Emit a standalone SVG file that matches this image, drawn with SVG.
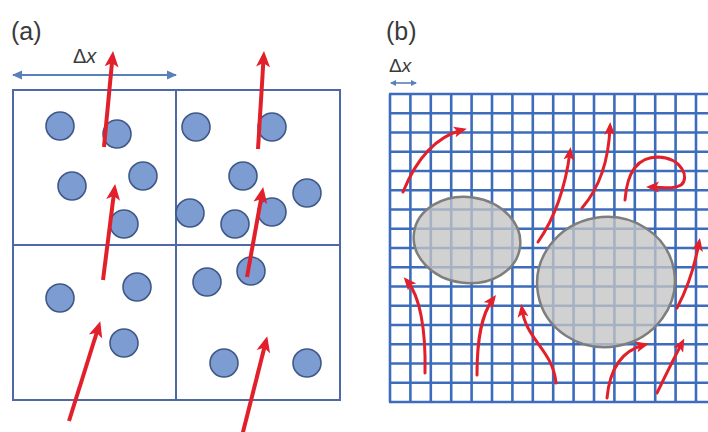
<svg xmlns="http://www.w3.org/2000/svg" width="708" height="432" viewBox="0 0 708 432">
<style>
.lbl{font-family:"Liberation Sans",Arial,sans-serif;fill:#3a3a3a}
.cell{fill:none;stroke:#4d6aa6;stroke-width:2}
.p{fill:#7d9dd2;stroke:#3f5887;stroke-width:1.6}
.ra{fill:none;stroke:#e2202b;stroke-width:4;marker-end:url(#hA)}
.rb{fill:none;stroke:#e2202b;stroke-width:3;stroke-linecap:round;marker-end:url(#hB)}
.g line{stroke:#3d6cbc;stroke-width:2.6}
.blob{fill:#c4c4c4;fill-opacity:0.78;stroke:#7e7e7e;stroke-width:2.5}
.dx{stroke:#5a7fb9;stroke-width:2;marker-start:url(#bS);marker-end:url(#bE)}
</style>
<defs>
<marker id="hA" markerUnits="userSpaceOnUse" markerWidth="16" markerHeight="16" viewBox="0 0 16 16" refX="11" refY="8" orient="auto">
<path d="M0,1 L16,8 L0,15 L4,8 Z" fill="#e2202b"/>
</marker>
<marker id="hB" markerUnits="userSpaceOnUse" markerWidth="13" markerHeight="12" viewBox="0 0 13 12" refX="8" refY="6" orient="auto">
<path d="M0,0.5 L13,6 L0,11.5 L3,6 Z" fill="#e2202b"/>
</marker>
<marker id="bE" markerUnits="userSpaceOnUse" markerWidth="10" markerHeight="10" viewBox="0 0 10 10" refX="9" refY="5" orient="auto">
<path d="M0,0.5 L10,5 L0,9.5 Z" fill="#5a7fb9"/>
</marker>
<marker id="bS" markerUnits="userSpaceOnUse" markerWidth="10" markerHeight="10" viewBox="0 0 10 10" refX="1" refY="5" orient="auto">
<path d="M10,0.5 L0,5 L10,9.5 Z" fill="#5a7fb9"/>
</marker>
<marker id="sE" markerUnits="userSpaceOnUse" markerWidth="6" markerHeight="6" viewBox="0 0 6 6" refX="5" refY="3" orient="auto">
<path d="M0,0 L6,3 L0,6 Z" fill="#5a7fb9"/>
</marker>
<marker id="sS" markerUnits="userSpaceOnUse" markerWidth="6" markerHeight="6" viewBox="0 0 6 6" refX="1" refY="3" orient="auto">
<path d="M6,0 L0,3 L6,6 Z" fill="#5a7fb9"/>
</marker>
</defs>
<rect width="708" height="432" fill="#ffffff"/>

<!-- Panel (a) -->
<g id="panel-a-label"><text class="lbl" x="11" y="40" font-size="25">(a)</text></g>
<g id="panel-a-dx">
<line class="dx" x1="13" y1="75" x2="176" y2="75"/>
<text class="lbl" x="73" y="63" font-size="20">Δ<tspan font-style="italic">x</tspan></text>
</g>
<g id="panel-a-cells">
<rect class="cell" x="13" y="90" width="327" height="310"/>
<line class="cell" x1="176" y1="90" x2="176" y2="400"/>
<line class="cell" x1="13" y1="245" x2="340" y2="245"/>
</g>
<g id="particles">
<circle class="p" cx="60" cy="126" r="14"/>
<circle class="p" cx="117" cy="134" r="14"/>
<circle class="p" cx="143" cy="176" r="14"/>
<circle class="p" cx="72" cy="186" r="14"/>
<circle class="p" cx="124" cy="224" r="14"/>
<circle class="p" cx="196" cy="127" r="14"/>
<circle class="p" cx="272" cy="127" r="14"/>
<circle class="p" cx="243" cy="176" r="14"/>
<circle class="p" cx="307" cy="193" r="14"/>
<circle class="p" cx="190" cy="213" r="14"/>
<circle class="p" cx="235" cy="224" r="14"/>
<circle class="p" cx="272" cy="212" r="14"/>
<circle class="p" cx="60" cy="298" r="14"/>
<circle class="p" cx="137" cy="287" r="14"/>
<circle class="p" cx="124" cy="343" r="14"/>
<circle class="p" cx="207" cy="282" r="14"/>
<circle class="p" cx="251" cy="271" r="14"/>
<circle class="p" cx="224" cy="363" r="14"/>
<circle class="p" cx="307" cy="363" r="14"/>
</g>
<g id="connectors-a">
<line class="ra" x1="104" y1="147" x2="112.6" y2="56"/>
<line class="ra" x1="258" y1="149" x2="263.7" y2="56"/>
<line class="ra" x1="103" y1="280" x2="114.5" y2="189"/>
<line class="ra" x1="247" y1="277" x2="262.3" y2="192"/>
<line class="ra" x1="69" y1="421" x2="98.8" y2="326"/>
<line class="ra" x1="242" y1="436" x2="266" y2="341"/>
</g>

<!-- Panel (b) -->
<g id="panel-b-label"><text class="lbl" x="386" y="40" font-size="25">(b)</text></g>
<g id="panel-b-dx">
<text class="lbl" x="389" y="72" font-size="19">Δ<tspan font-style="italic">x</tspan></text>
<line x1="391" y1="83" x2="416" y2="83" stroke="#5a7fb9" stroke-width="1.6" marker-start="url(#sS)" marker-end="url(#sE)"/>
</g>
<g id="grid" class="g">
<line x1="390" y1="94" x2="390" y2="402"/>
<line x1="410.4" y1="94" x2="410.4" y2="402"/>
<line x1="430.8" y1="94" x2="430.8" y2="402"/>
<line x1="451.2" y1="94" x2="451.2" y2="402"/>
<line x1="471.6" y1="94" x2="471.6" y2="402"/>
<line x1="492" y1="94" x2="492" y2="402"/>
<line x1="512.4" y1="94" x2="512.4" y2="402"/>
<line x1="532.8" y1="94" x2="532.8" y2="402"/>
<line x1="553.2" y1="94" x2="553.2" y2="402"/>
<line x1="573.6" y1="94" x2="573.6" y2="402"/>
<line x1="594" y1="94" x2="594" y2="402"/>
<line x1="614.4" y1="94" x2="614.4" y2="402"/>
<line x1="634.8" y1="94" x2="634.8" y2="402"/>
<line x1="655.2" y1="94" x2="655.2" y2="402"/>
<line x1="675.6" y1="94" x2="675.6" y2="402"/>
<line x1="696" y1="94" x2="696" y2="402"/>
<line x1="389" y1="94" x2="708" y2="94"/>
<line x1="389" y1="113.25" x2="708" y2="113.25"/>
<line x1="389" y1="132.5" x2="708" y2="132.5"/>
<line x1="389" y1="151.75" x2="708" y2="151.75"/>
<line x1="389" y1="171" x2="708" y2="171"/>
<line x1="389" y1="190.25" x2="708" y2="190.25"/>
<line x1="389" y1="209.5" x2="708" y2="209.5"/>
<line x1="389" y1="228.75" x2="708" y2="228.75"/>
<line x1="389" y1="248" x2="708" y2="248"/>
<line x1="389" y1="267.25" x2="708" y2="267.25"/>
<line x1="389" y1="286.5" x2="708" y2="286.5"/>
<line x1="389" y1="305.75" x2="708" y2="305.75"/>
<line x1="389" y1="325" x2="708" y2="325"/>
<line x1="389" y1="344.25" x2="708" y2="344.25"/>
<line x1="389" y1="363.5" x2="708" y2="363.5"/>
<line x1="389" y1="382.75" x2="708" y2="382.75"/>
<line x1="389" y1="402" x2="708" y2="402"/>
</g>
<g id="obstacle-small"><ellipse class="blob" cx="467" cy="240" rx="53.5" ry="43" transform="rotate(8 467 240)"/></g>
<g id="obstacle-large"><ellipse class="blob" cx="606" cy="282" rx="69" ry="65" transform="rotate(-10 606 282)"/></g>
<g id="connectors-b">
<path class="rb" d="M403,192 Q424,140 462,130"/>
<path class="rb" d="M538,242 Q563,206 570,152"/>
<path class="rb" d="M582,208 Q608,178 610,127"/>
<path class="rb" d="M625,200 C627,172 638,157 658,157 C682,158 690,178 681,185 C673,190 662,187 651,187"/>
<path class="rb" d="M425,373 C426,330 420,296 407,281"/>
<path class="rb" d="M477,375 C477,340 481,315 493,299"/>
<path class="rb" d="M556,383 C553,350 526,340 522,309"/>
<path class="rb" d="M607,398 C610,366 624,350 644,345"/>
<path class="rb" d="M657,393 Q672,362 682,343"/>
<path class="rb" d="M677,308 Q692,280 699,243"/>
</g>
</svg>
